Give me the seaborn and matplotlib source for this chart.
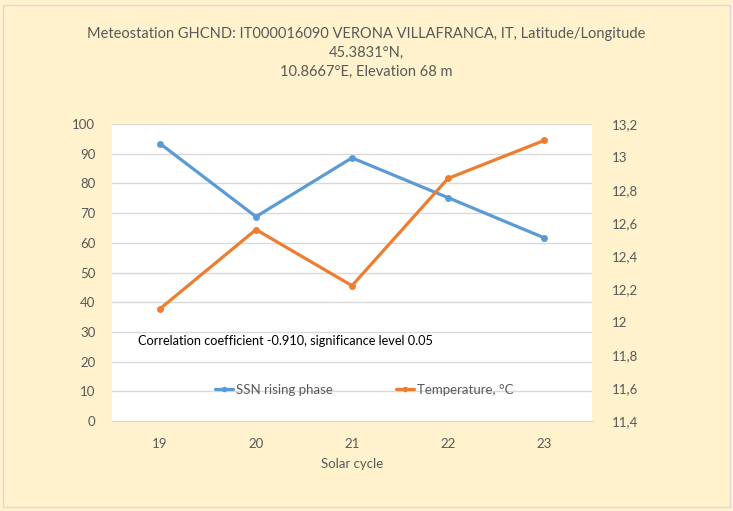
import matplotlib
matplotlib.use("Agg")
import matplotlib.pyplot as plt
import seaborn as sns
import pandas as pd
from matplotlib.patches import Rectangle

cycles = [19, 20, 21, 22, 23]
ssn = [93.4, 68.8, 88.6, 75.2, 61.7]
temp = [12.08, 12.56, 12.22, 12.87, 13.10]
left_ticks = [0, 10, 20, 30, 40, 50, 60, 70, 80, 90, 100]
right_ticks = [11.4, 11.6, 11.8, 12.0, 12.2, 12.4, 12.6, 12.8, 13.0, 13.2]
right_labels = ["11,4", "11,6", "11,8", "12", "12,2", "12,4", "12,6", "12,8", "13", "13,2"]

sns.set_style("white")
plt.rcParams['font.family'] = ['Lato', 'DejaVu Sans']

BG = "#FFF2CC"
GRAY = "#595959"
BLUE = "#5B9BD5"
ORANGE = "#ED7D31"

df = pd.DataFrame({"cycle": cycles, "ssn": ssn, "temp": temp})
df["pos"] = range(len(cycles))

fig = plt.figure(figsize=(7.33, 5.11), dpi=100, facecolor=BG)
ax = fig.add_axes([112/733, 1-421/511, 480/733, 297/511])
ax.set_facecolor("white")

sns.lineplot(data=df, x="pos", y="ssn", ax=ax, color=BLUE, linewidth=2.3,
             marker="o", markersize=5, markeredgewidth=0, label="SSN rising phase", legend=False)
ax2 = ax.twinx()
sns.lineplot(data=df, x="pos", y="temp", ax=ax2, color=ORANGE, linewidth=2.3,
             marker="o", markersize=5, markeredgewidth=0, label="Temperature, °C", legend=False)

ax.set_xlim(-0.5, len(cycles) - 0.5)
ax.set_ylim(0, 100)
ax2.set_ylim(11.4, 13.2)
ax.set_yticks(left_ticks)
ax.set_yticklabels([str(t) for t in left_ticks])
ax2.set_yticks(right_ticks)
ax2.set_yticklabels(right_labels)
ax.set_xticks(df["pos"])
ax.set_xticklabels([str(c) for c in cycles])

ax.grid(axis="y", color="#D9D9D9", linewidth=1)
ax.set_axisbelow(True)
for a in (ax, ax2):
    for s in a.spines.values():
        s.set_visible(False)
ax.spines["bottom"].set_visible(True)
ax.spines["bottom"].set_color("#D9D9D9")

ax.tick_params(axis="y", length=0, labelsize=9.5, labelcolor=GRAY, pad=12)
ax.tick_params(axis="x", length=0, labelsize=9.5, labelcolor=GRAY, pad=12)
ax2.tick_params(axis="y", length=0, labelsize=9.5, labelcolor=GRAY, pad=14)

ax.set_xlabel("Solar cycle", fontsize=9.5, color=GRAY, labelpad=6)
ax.set_ylabel("")
ax2.set_ylabel("")

ax.text(0.055, 0.27, "Correlation coefficient -0.910, significance level 0.05",
        transform=ax.transAxes, fontsize=9.2, color="black", ha="left", va="center")

h1, l1 = ax.get_legend_handles_labels()
h2, l2 = ax2.get_legend_handles_labels()
leg = ax2.legend(h1 + h2, l1 + l2, loc="center", bbox_to_anchor=(0.525, 0.105), ncol=2,
                 frameon=False, fontsize=9.5, handlelength=1.4, handletextpad=0.2,
                 columnspacing=4.8, labelcolor=GRAY, markerscale=0.8)

fig.text(0.5, 1-27/511, "Meteostation GHCND: IT000016090 VERONA VILLAFRANCA, IT, Latitude/Longitude\n45.3831°N,\n10.8667°E, Elevation 68 m",
         ha="center", va="top", fontsize=10.5, color=GRAY, linespacing=1.45)

fig.patches.append(Rectangle((3/733, 4/511), 727/733, 502/511, transform=fig.transFigure,
                             fill=False, edgecolor="#D9D9D9", linewidth=1))

fig.savefig("out.png", dpi=100, facecolor=BG)
